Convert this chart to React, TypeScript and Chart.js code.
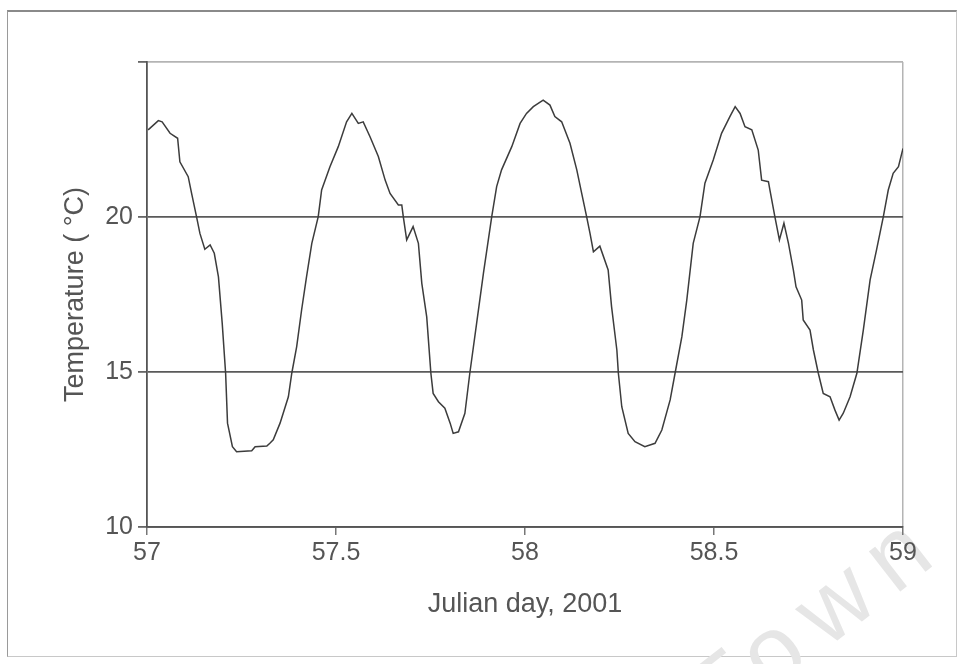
import React, { useEffect, useRef } from "react";
import { Chart, registerables } from "chart.js";

Chart.register(...registerables);

// Water temperature record, Julian days 57–59 of 2001
const julianDay: number[] = [
  57.003, 57.03, 57.04, 57.061, 57.081, 57.087, 57.109, 57.118, 57.131, 57.14,
  57.153, 57.167, 57.178, 57.189, 57.199, 57.208, 57.213, 57.226, 57.237, 57.277,
  57.286, 57.317, 57.325, 57.334, 57.352, 57.374, 57.383, 57.396, 57.409, 57.422,
  57.436, 57.453, 57.462, 57.484, 57.506, 57.528, 57.542, 57.559, 57.572, 57.59,
  57.612, 57.63, 57.643, 57.665, 57.674, 57.678, 57.687, 57.704, 57.718, 57.727,
  57.74, 57.751, 57.757, 57.771, 57.788, 57.802, 57.81, 57.824, 57.841, 57.854,
  57.872, 57.89, 57.912, 57.925, 57.938, 57.965, 57.987, 58.004, 58.022, 58.048,
  58.066, 58.079, 58.097, 58.119, 58.137, 58.15, 58.163, 58.172, 58.181, 58.198,
  58.22, 58.229, 58.243, 58.247, 58.256, 58.273, 58.291, 58.317, 58.344, 58.362,
  58.384, 58.397, 58.415, 58.428, 58.445, 58.463, 58.476, 58.498, 58.52, 58.542,
  58.556, 58.569, 58.582, 58.6, 58.617, 58.626, 58.644, 58.648, 58.661, 58.673,
  58.685, 58.697, 58.71, 58.717, 58.732, 58.736, 58.754, 58.763, 58.776, 58.789,
  58.807, 58.82, 58.831, 58.842, 58.86, 58.878, 58.895, 58.913, 58.93, 58.948,
  58.961, 58.974, 58.988, 59.0,
];

const temperature: number[] = [
  22.81, 23.11, 23.07, 22.7, 22.54, 21.78, 21.3, 20.76, 20.01, 19.47,
  18.96, 19.1, 18.83, 18.07, 16.57, 14.96, 13.35, 12.59, 12.43, 12.46,
  12.59, 12.61, 12.7, 12.81, 13.35, 14.2, 14.96, 15.82, 17.0, 18.07,
  19.15, 20.01, 20.87, 21.62, 22.27, 23.07, 23.34, 23.02, 23.07, 22.59,
  21.95, 21.19, 20.76, 20.39, 20.39, 20.01, 19.26, 19.69, 19.15, 17.86,
  16.78, 14.96, 14.31, 14.04, 13.83, 13.35, 13.02, 13.07, 13.67, 14.96,
  16.57, 18.18, 20.01, 20.98, 21.52, 22.27, 23.02, 23.34, 23.56, 23.77,
  23.61, 23.24, 23.07, 22.38, 21.52, 20.76, 20.01, 19.47, 18.88, 19.06,
  18.29, 17.11, 15.71, 14.96, 13.88, 13.02, 12.75, 12.59, 12.7, 13.13,
  14.1, 14.96, 16.14, 17.32, 19.15, 20.01, 21.09, 21.84, 22.7, 23.24,
  23.56, 23.34, 22.91, 22.81, 22.16, 21.19, 21.14, 20.87, 20.01, 19.26,
  19.8, 19.15, 18.29, 17.75, 17.32, 16.68, 16.35, 15.71, 14.96, 14.31,
  14.2, 13.77, 13.45, 13.67, 14.2, 14.96, 16.35, 17.97, 18.94, 20.01,
  20.87, 21.41, 21.62, 22.21,
];

const xMin = 57;
const xMax = 59;
const xStep = 0.5;
const yMin = 10;
const yMax = 25;
const yStep = 5;

const xTitle = "Julian day, 2001";
const yTitle = "Temperature ( °C)";
const watermark = "Town";

const FONT = "'Liberation Sans', Arial, Helvetica, sans-serif";

export default function App() {
  const canvasRef = useRef<HTMLCanvasElement | null>(null);

  useEffect(() => {
    const canvas = canvasRef.current;
    if (!canvas) return;
    const points = julianDay.map((d, i) => ({ x: d, y: temperature[i] }));

    const chart = new Chart(canvas, {
      type: "line",
      data: {
        datasets: [
          {
            data: points,
            borderColor: "#3c3c3c",
            borderWidth: 1.5,
            pointRadius: 0,
            tension: 0,
            fill: false,
          },
        ],
      },
      options: {
        animation: false,
        responsive: false,
        devicePixelRatio: 1,
        layout: { padding: { top: 62, right: 57, left: 0, bottom: 0 } },
        plugins: {
          legend: { display: false },
          tooltip: { enabled: false },
          title: { display: false },
        },
        scales: {
          x: {
            type: "linear",
            min: xMin,
            max: xMax,
            afterFit: (scale: any) => {
              scale.height = 137;
            },
            ticks: {
              stepSize: xStep,
              color: "#555",
              padding: 3,
              font: { family: FONT, size: 25 },
              maxRotation: 0,
              callback: (v: any) => String(Number(v)),
            },
            grid: {
              drawOnChartArea: true,
              color: (ctx: any) =>
                ctx.tick && ctx.tick.value === xMax ? "#b4b4b4" : "rgba(0,0,0,0)",
              tickColor: "#777",
              tickLength: 8,
              lineWidth: 1.5,
            },
            border: { display: true, color: "#555", width: 1.8 },
            title: {
              display: true,
              text: xTitle,
              color: "#555",
              font: { family: FONT, size: 27 },
              padding: { top: 0, bottom: 43 },
            },
          },
          y: {
            type: "linear",
            min: yMin,
            max: yMax,
            afterFit: (scale: any) => {
              scale.width = 147;
            },
            ticks: {
              stepSize: yStep,
              color: "#555",
              padding: 5,
              font: { family: FONT, size: 25 },
              callback: (v: any) => (Number(v) === yMax ? "" : String(v)),
            },
            grid: {
              color: (ctx: any) =>
                ctx.tick && ctx.tick.value === yMax ? "#b4b4b4" : "#5a5a5a",
              tickColor: "#666",
              tickLength: 9,
              lineWidth: 1.8,
            },
            border: { display: true, color: "#555", width: 1.8 },
            title: {
              display: true,
              text: yTitle,
              color: "#555",
              font: { family: FONT, size: 27 },
              padding: { top: 59, bottom: 0 },
            },
          },
        },
      },
    });

    return () => chart.destroy();
  }, []);

  return (
    <div
      style={{
        position: "fixed",
        left: 0,
        top: 0,
        width: 960,
        height: 664,
        background: "#fff",
        overflow: "hidden",
      }}
    >
      <div
        style={{
          position: "absolute",
          left: 7,
          top: 10,
          width: 950,
          height: 647,
          borderTop: "2px solid #8a8a8a",
          borderLeft: "1px solid #9a9a9a",
          borderRight: "1px solid #c8c8c8",
          borderBottom: "1px solid #c8c8c8",
          boxSizing: "border-box",
        }}
      />
      <div
        style={{
          position: "absolute",
          left: 668,
          top: 670,
          fontFamily: FONT,
          fontSize: 96,
          letterSpacing: 18,
          color: "#e6e6e6",
          transform: "rotate(-38deg)",
          transformOrigin: "0 0",
          whiteSpace: "nowrap",
          lineHeight: 1,
          pointerEvents: "none",
        }}
      >
        {watermark}
      </div>
      <canvas
        ref={canvasRef}
        width={960}
        height={664}
        style={{ position: "absolute", left: 0, top: 0, display: "block" }}
      />
    </div>
  );
}
